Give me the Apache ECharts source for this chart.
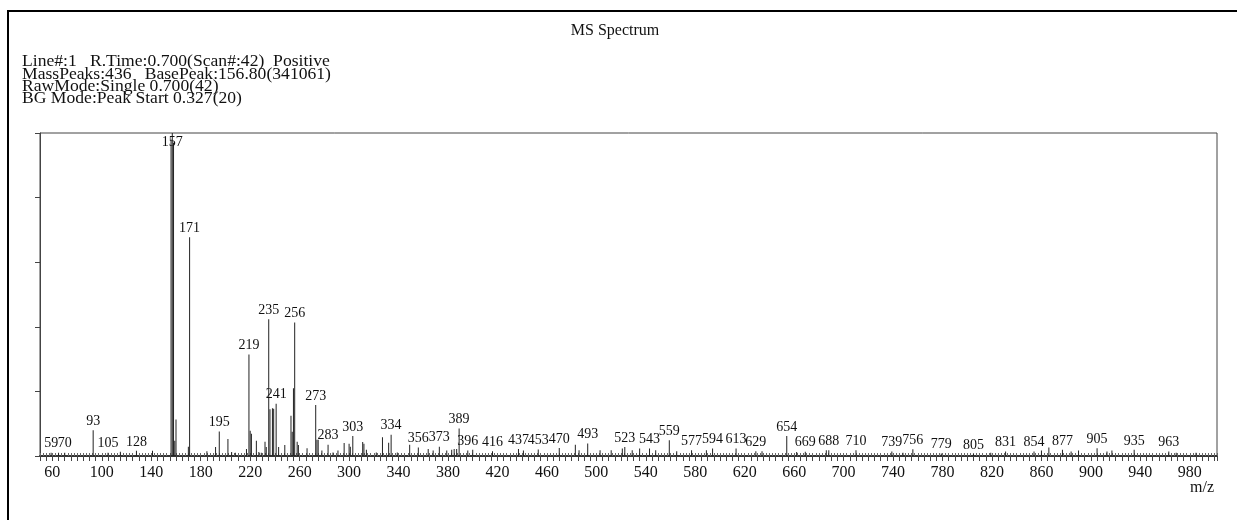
<!DOCTYPE html>
<html><head><meta charset="utf-8">
<script src="https://cdn.jsdelivr.net/npm/echarts@6/dist/echarts.min.js"></script>
<style>html,body{margin:0;padding:0;background:#fff}#c{width:1237px;height:520px}</style>
</head><body><div id="c"></div>
<script>
const titleText = 'MS Spectrum';
const headerLines = [
  'Line#:1   R.Time:0.700(Scan#:42)  Positive',
  'MassPeaks:436   BasePeak:156.80(341061)',
  'RawMode:Single 0.700(42)',
  'BG Mode:Peak Start 0.327(20)'
];
const xAxisName = 'm/z';
const xTickLabels = [60,100,140,180,220,260,300,340,380,420,460,500,540,580,620,660,700,740,780,820,860,900,940,980];

// labelled peaks (m/z, relative intensity %)
const labeledMz  = [59,70,93,105,128,157,171,195,219,235,241,256,273,283,303,334,356,373,389,396,416,437,453,470,493,523,543,559,577,594,613,629,654,669,688,710,739,756,779,805,831,854,877,905,935,963];
const labeledInt = [1.0,1.0,8.0,1.0,1.6,100,67.7,7.6,31.4,42.3,16.2,41.3,15.8,3.5,6.2,6.6,2.6,2.9,8.5,1.7,1.5,2.2,2.0,2.5,3.9,2.8,2.3,4.9,1.8,2.3,2.3,1.5,6.2,1.3,1.8,1.8,1.4,2.1,0.8,0.6,1.4,1.4,1.9,2.4,1.9,1.4];

// unlabelled peaks
const minorMz  = [65,115,141,156,158,159,160,170,185,192,202,205,208,217,220,221,225,227,229,232,233,236,238,239,243,248,253,254,255,258,259,266,274,275,278,287,291,296,300,301,311,312,314,322,327,332,339,349,364,368,379,383,385,387,400,441,483,486,503,512,521,529,535,548,565,589,634,662,686,748,819,860,866,884,890,913,917,969,985];
const minorInt = [1.0,1.3,1.6,98,97,4.7,11.3,2.9,1.5,2.8,5.3,1.2,1.0,2.2,7.8,6.9,4.7,1.2,1.0,4.4,2.8,14.5,14.8,14.6,2.8,3.4,12.5,7.5,21,4.4,3.4,2.4,5.0,5.0,1.7,1.1,1.7,4.0,3.8,2.9,4.3,3.8,1.9,1.1,5.8,4.1,1.1,3.5,2.2,1.7,1.7,1.9,2.2,2.2,1.9,1.7,3.5,1.8,1.8,1.8,2.3,1.8,2.3,1.8,1.5,1.8,1.5,1.2,1.8,1.0,1.0,1.7,2.6,1.4,1.7,1.4,1.7,1.0,1.0];

const SERIF = '"Liberation Serif","Times New Roman",serif';

const data = [];
minorMz.forEach((m, i) => data.push({ value: [m, minorInt[i]] }));
labeledMz.forEach((m, i) => {
  const item = { value: [m, labeledInt[i]], label: { show: true } };
  if (labeledInt[i] >= 99) item.label.position = 'insideTop';
  data.push(item);
});

const graphics = [
  { type: 'line', shape: { x1: 8, y1: 11, x2: 1237, y2: 11 }, style: { stroke: '#000', lineWidth: 2 } },
  { type: 'line', shape: { x1: 8, y1: 10, x2: 8, y2: 520 }, style: { stroke: '#000', lineWidth: 2 } },
  { type: 'text', x: 615, y: 31, style: { text: titleText, font: '16px ' + SERIF, fill: '#111', textAlign: 'center', textVerticalAlign: 'middle' } },
  { type: 'text', x: 1202, y: 488, style: { text: xAxisName, font: '16px ' + SERIF, fill: '#111', textAlign: 'center', textVerticalAlign: 'middle' } }
];
headerLines.forEach((t, i) => graphics.push({
  type: 'text', x: 22, y: 62 + i * 12.4, scaleX: 1.1,
  style: { text: t, font: '16px ' + SERIF, fill: '#111', textAlign: 'left', textVerticalAlign: 'middle' }
}));

const chart = echarts.init(document.getElementById('c'), null, { renderer: 'canvas' });
chart.setOption({
  animation: false,
  backgroundColor: '#fff',
  grid: { left: 40, right: 20, top: 133, bottom: 64, show: true, borderColor: '#444', borderWidth: 1, backgroundColor: 'transparent' },
  xAxis: [
    {
      type: 'value', min: 50, max: 1002, interval: 5,
      axisLine: { show: true, onZero: false, lineStyle: { color: '#333', width: 2 } },
      axisTick: { show: true, inside: false, length: 5, lineStyle: { color: '#444', width: 1 } },
      axisLabel: {
        show: true, margin: 9, color: '#111', fontFamily: SERIF, fontSize: 16,
        showMinLabel: true, showMaxLabel: true,
        formatter: v => (xTickLabels.indexOf(Math.round(v)) >= 0 && Math.abs(v - Math.round(v)) < 1e-6) ? String(Math.round(v)) : ''
      },
      splitLine: { show: false }
    },
    {
      type: 'value', min: 50, max: 1002, interval: 2.5, position: 'bottom',
      axisLine: { show: false, onZero: false },
      axisTick: { show: true, inside: true, length: 3, lineStyle: { color: '#666', width: 1 } },
      axisLabel: { show: false },
      splitLine: { show: false }
    }
  ],
  yAxis: {
    type: 'value', min: 0, max: 100, interval: 20,
    axisLine: { show: true, lineStyle: { color: '#444', width: 1 } },
    axisTick: { show: true, inside: false, length: 5, lineStyle: { color: '#444' } },
    axisLabel: { show: false },
    splitLine: { show: false }
  },
  series: [{
    type: 'bar',
    xAxisIndex: 0,
    barWidth: 1,
    itemStyle: { color: '#222' },
    label: { show: false, position: 'top', distance: 2, color: '#111', fontFamily: SERIF, fontSize: 14, formatter: p => String(p.value[0]) },
    data: data
  }],
  graphic: graphics
});
</script>
</body></html>
